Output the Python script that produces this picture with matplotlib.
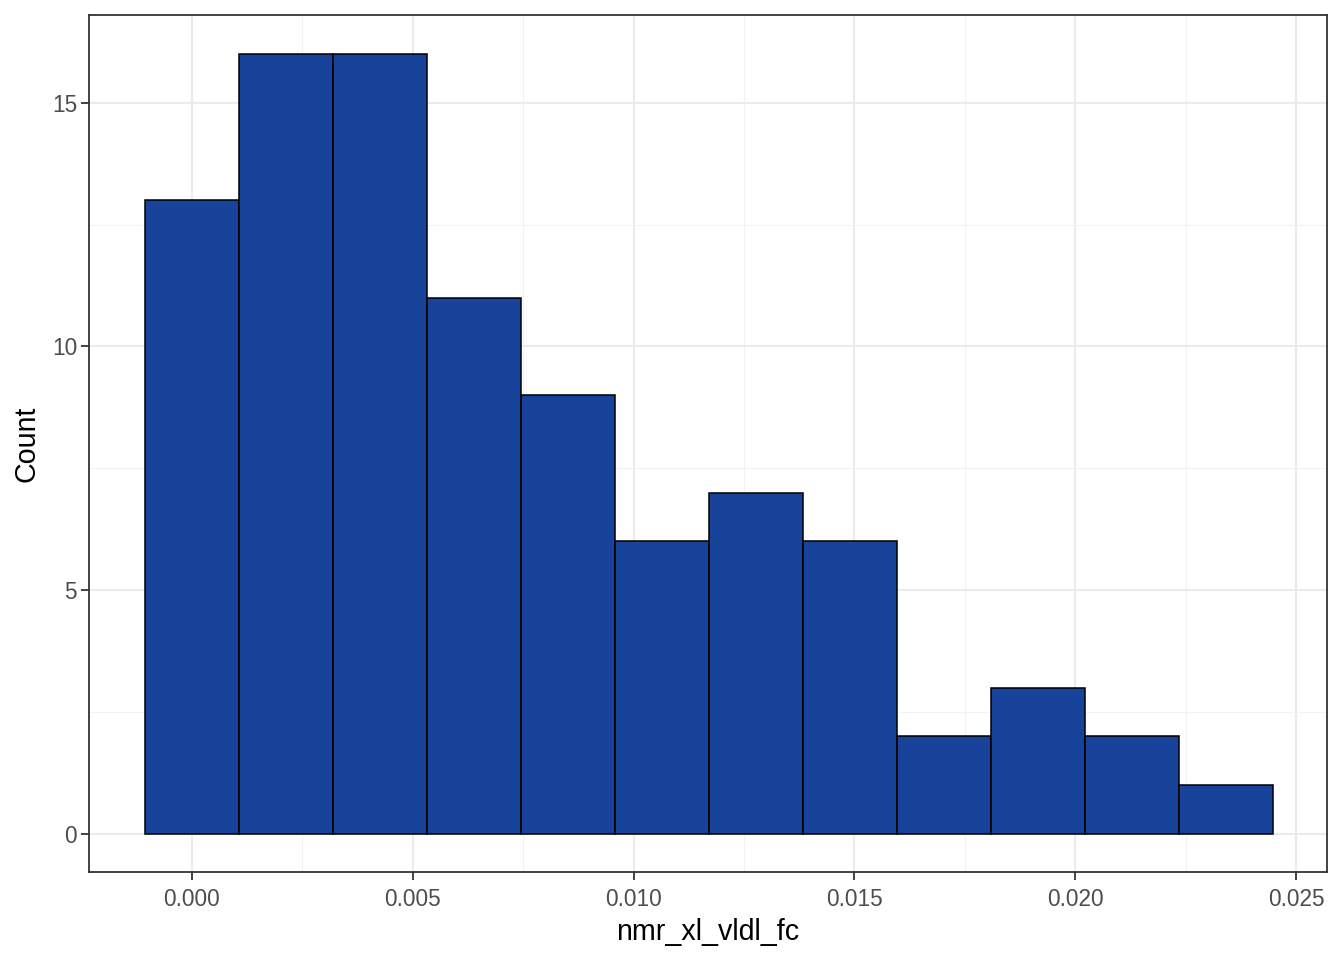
import numpy as np
import matplotlib.pyplot as plt
from matplotlib.ticker import MultipleLocator

plt.rcParams['font.family'] = ['Liberation Sans', 'DejaVu Sans']

# histogram
bin_start = -0.001064
bin_width = 0.002128
counts = [13, 16, 16, 11, 9, 6, 7, 6, 2, 3, 2, 1]
x_ticks = [0.000, 0.005, 0.010, 0.015, 0.020, 0.025]
y_ticks = [0, 5, 10, 15]

edges = bin_start + bin_width * np.arange(len(counts) + 1)

fig = plt.figure(figsize=(13.44, 9.6), dpi=100)
ax = fig.add_axes([89 / 1344, 1 - 872 / 960, (1327 - 89) / 1344, (872 - 15) / 960])

ax.bar(edges[:-1], counts, width=bin_width, align='edge',
       color='#17439B', edgecolor='black', linewidth=1.1, zorder=3)

ax.set_xlim(-0.002332, 0.025702)
ax.set_ylim(-0.78, 16.8)
ax.set_xticks(x_ticks)
ax.set_xticklabels([f'{v:.3f}' for v in x_ticks])
ax.set_yticks(y_ticks)
ax.xaxis.set_minor_locator(MultipleLocator(0.0025))
ax.yaxis.set_minor_locator(MultipleLocator(2.5))

ax.grid(which='major', color='#EBEBEB', linewidth=1.5, zorder=0)
ax.grid(which='minor', color='#F2F2F2', linewidth=0.8, zorder=0)
ax.set_axisbelow(True)

for s in ax.spines.values():
    s.set_color('#333333')
    s.set_linewidth(1.3)

ax.tick_params(which='major', length=5.5, width=1.3, color='#333333',
               labelcolor='#4D4D4D', labelsize=16.3, pad=3)
ax.tick_params(axis='x', which='major', pad=6)
ax.tick_params(which='minor', length=0)

ax.set_xlabel('nmr_xl_vldl_fc', fontsize=20.6, labelpad=5)
ax.set_ylabel('Count', fontsize=20.6, labelpad=8)

fig.savefig('out.png', dpi=100)
